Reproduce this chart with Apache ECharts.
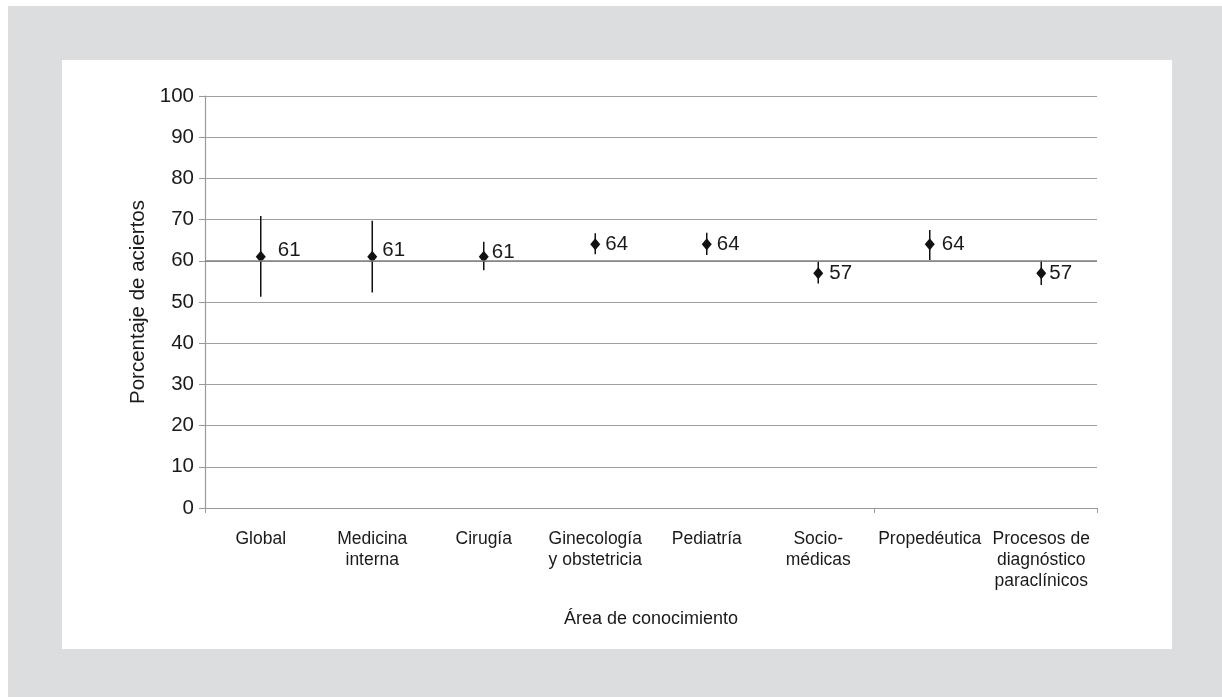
<!DOCTYPE html>
<html><head><meta charset="utf-8">
<script src="https://cdn.jsdelivr.net/npm/echarts@6/dist/echarts.min.js"></script>
<style>html,body{margin:0;padding:0;background:#fff;}#c{width:1222px;height:697px;}</style>
</head><body><div id="c"></div>
<script>
const categories = ['Global','Medicina\ninterna','Cirugía','Ginecología\ny obstetricia','Pediatría','Socio-\nmédicas','Propedéutica','Procesos de\ndiagnóstico\nparaclínicos'];
const means = [61, 61, 61, 64, 64, 57, 64, 57];
const lows = [51.3, 52.3, 57.7, 61.6, 61.4, 54.5, 60.2, 54.1];
const highs = [70.9, 69.7, 64.6, 66.7, 66.8, 59.8, 67.5, 60.0];
const labelDist = [12, 5, 3, 5, 5, 6, 7, 3];
const labelDy = [-6, -6, -4, 0, 0, 0, 0, 0];
const yTicks = [0,10,20,30,40,50,60,70,80,90,100];

const chart = echarts.init(document.getElementById('c'));
const font = 'Liberation Sans, Arial, sans-serif';
chart.setOption({
  animation: false,
  graphic: [
    {type:'rect', shape:{x:8,y:6,width:1214,height:691}, style:{fill:'#dcdddf'}, z:-10},
    {type:'rect', shape:{x:62,y:60,width:1110,height:589}, style:{fill:'#ffffff'}, z:-9}
  ],
  grid: {left:205, right:125, top:96, bottom:189},
  xAxis: {
    type:'category', data:categories, boundaryGap:true,
    axisLine:{lineStyle:{color:'#9a9a9a', width:1.2}},
    axisTick:{show:true, length:5, lineStyle:{color:'#9a9a9a'}, interval: function(i){ return i === 0 || i === 6; }},
    axisLabel:{color:'#1a1a1a', fontFamily:font, fontSize:17.5, lineHeight:21, margin:21, interval:0},
    name:'Área de conocimiento', nameLocation:'middle', nameGap:102,
    nameTextStyle:{color:'#1a1a1a', fontFamily:font, fontSize:18}
  },
  yAxis: {
    type:'value', min:0, max:100, interval:10,
    axisLine:{show:true, lineStyle:{color:'#9a9a9a', width:1.2}},
    axisTick:{show:true, length:6, lineStyle:{color:'#9a9a9a'}},
    axisLabel:{color:'#1a1a1a', fontFamily:font, fontSize:20.5, margin:11},
    splitLine:{lineStyle:{color:'#a0a0a0', width:1}},
    name:'Porcentaje de aciertos', nameLocation:'middle', nameGap:54,
    nameTextStyle:{color:'#1a1a1a', fontFamily:font, fontSize:20.5}
  },
  series: [
    {
      type:'custom',
      data: categories.map((c,i)=>[i, lows[i], highs[i]]),
      renderItem: function(params, api){
        const lo = api.coord([api.value(0), api.value(1)]);
        const hi = api.coord([api.value(0), api.value(2)]);
        return {type:'line', shape:{x1:lo[0], y1:lo[1], x2:hi[0], y2:hi[1]}, style:{stroke:'#111', lineWidth:1.5}};
      },
      z:3,
      markLine: {
        silent:true, symbol:'none', label:{show:false},
        lineStyle:{color:'#808080', width:1.6, type:'solid'},
        data:[{yAxis:60}]
      }
    },
    {
      type:'scatter', symbol:'diamond', symbolSize:[10,12],
      itemStyle:{color:'#111', opacity:1},
      data: means.map((v,i)=>({value:[i, v], label:{distance:labelDist[i], offset:[0,labelDy[i]]}})),
      label:{show:true, position:'right', color:'#1a1a1a', fontFamily:font, fontSize:20.5, formatter: p=>p.value[1]},
      z:4
    }
  ]
});
</script></body></html>
